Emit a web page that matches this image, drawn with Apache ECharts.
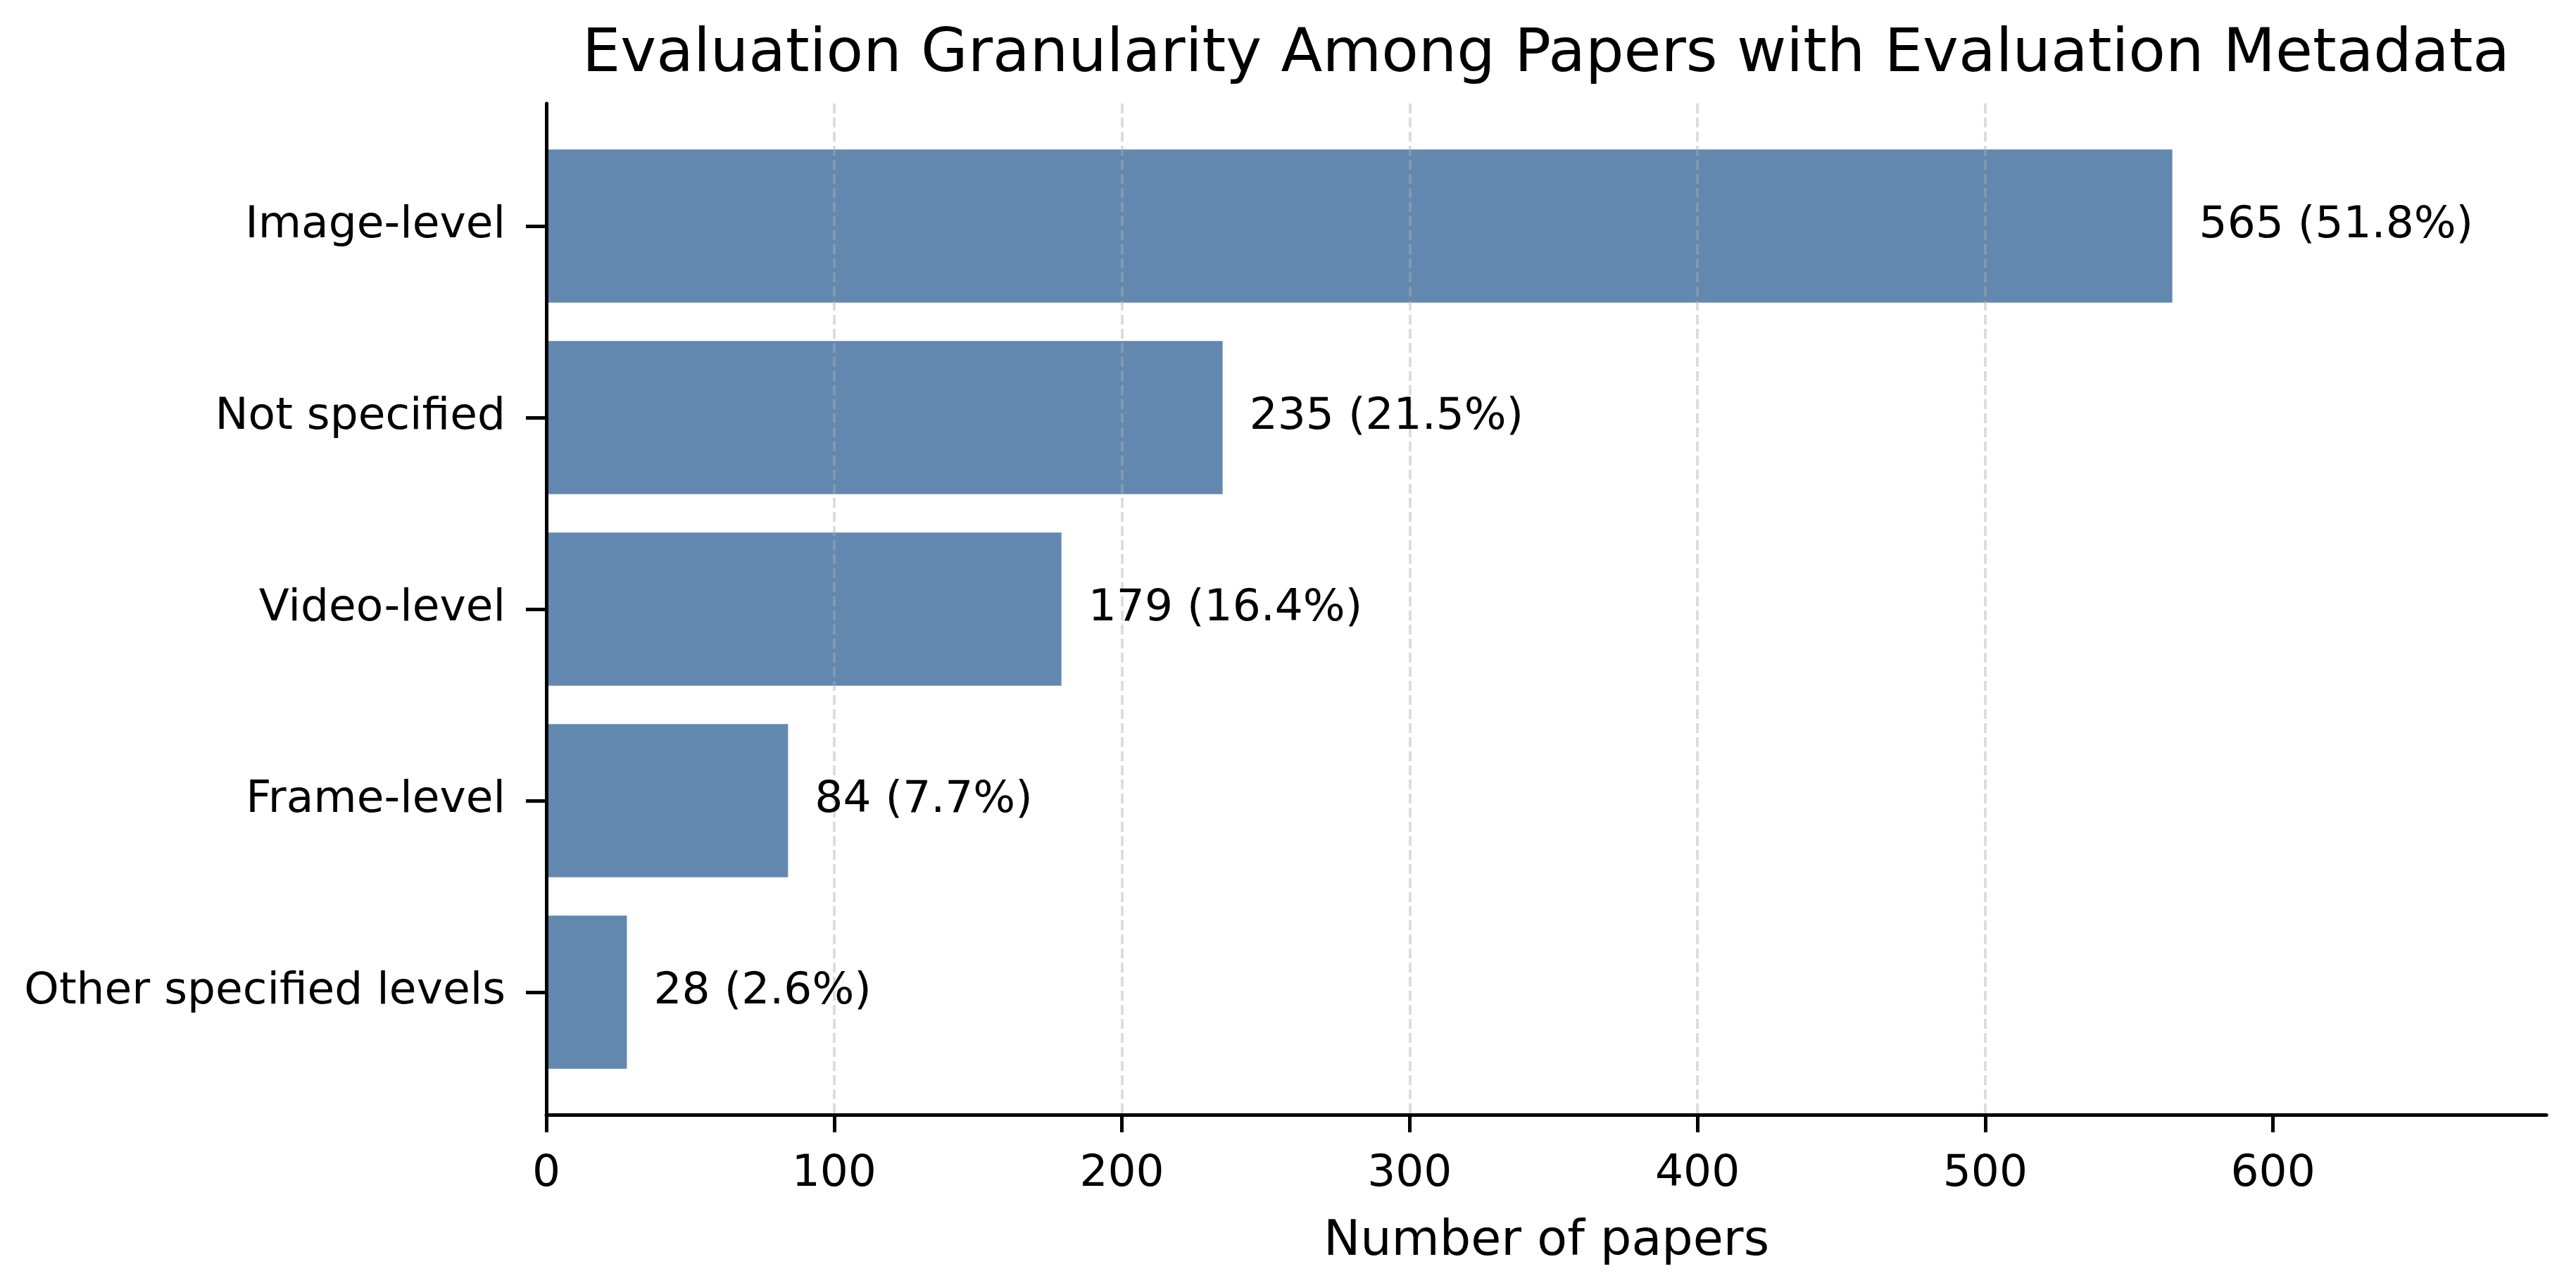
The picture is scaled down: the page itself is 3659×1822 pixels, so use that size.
<!DOCTYPE html>
<html>
<head>
<meta charset="utf-8">
<script src="https://cdn.jsdelivr.net/npm/echarts@6/dist/echarts.min.js"></script>
<style>
html,body{margin:0;padding:0;background:#fff;}
#chart{width:3659px;height:1822px;}
</style>
</head>
<body>
<div id="chart"></div>
<script>
const titleText = 'Evaluation Granularity Among Papers with Evaluation Metadata';
const categories = ['Image-level', 'Not specified', 'Video-level', 'Frame-level', 'Other specified levels'];
const counts = [565, 235, 179, 84, 28];
const percents = ['51.8%', '21.5%', '16.4%', '7.7%', '2.6%'];
const xTicks = [0, 100, 200, 300, 400, 500, 600];
const xMax = 695;
const xName = 'Number of papers';

const FONT = 'DejaVu Sans';
const BAR = '#6288b0';

const chart = echarts.init(document.getElementById('chart'), null, {width: 3659, height: 1822, renderer: 'canvas'});

const option = {
  backgroundColor: '#ffffff',
  animation: false,
  title: {
    text: titleText,
    left: 2196,
    top: 36,
    padding: 0,
    textAlign: 'center',
    textStyle: {fontFamily: FONT, fontSize: 86, fontWeight: 'normal', color: '#000'}
  },
  grid: [
    {left: 776, right: 42, top: 147, bottom: 239, containLabel: false},
    {left: 776, right: 42, top: 185, bottom: 277, containLabel: false}
  ],
  xAxis: [
    {
      gridIndex: 0, type: 'value', min: 0, max: xMax, interval: 100, z: 3,
      name: xName, nameLocation: 'middle', nameGap: 146,
      nameTextStyle: {fontFamily: FONT, fontSize: 70, color: '#000'},
      axisLine: {show: true, lineStyle: {color: '#000', width: 5}},
      axisTick: {show: true, length: 25, lineStyle: {color: '#000', width: 5}, customValues: xTicks},
      axisLabel: {show: true, margin: 53, fontFamily: FONT, fontSize: 63, color: '#000', customValues: xTicks},
      splitLine: {show: true, showMinLine: false, showMaxLine: false,
        lineStyle: {color: 'rgba(176,176,176,0.45)', width: 3.8, type: [14, 6]}}
    },
    {
      gridIndex: 1, type: 'value', min: 0, max: xMax, show: false,
      splitLine: {show: false}
    }
  ],
  yAxis: [
    {
      gridIndex: 0, type: 'value', min: 0, max: 1, z: 3,
      axisLine: {show: true, onZero: false, lineStyle: {color: '#000', width: 5}},
      axisTick: {show: false}, axisLabel: {show: false}, splitLine: {show: false}
    },
    {
      gridIndex: 1, type: 'category', data: categories, inverse: true,
      axisLine: {show: false, onZero: false},
      axisTick: {show: true, alignWithLabel: true, length: 29, lineStyle: {color: '#000', width: 5}},
      axisLabel: {show: true, margin: 58, fontFamily: FONT, fontSize: 63, color: '#000'},
      splitLine: {show: false}
    }
  ],
  series: [
    {
      type: 'bar', xAxisIndex: 1, yAxisIndex: 1, data: counts,
      barCategoryGap: '20%', z: 2,
      itemStyle: {color: BAR},
      label: {show: false}
    },
    {
      type: 'bar', xAxisIndex: 1, yAxisIndex: 1, data: counts,
      barCategoryGap: '20%', barGap: '-100%', z: 4,
      itemStyle: {color: 'rgba(0,0,0,0)'},
      label: {
        show: true, position: 'right', distance: 38,
        fontFamily: FONT, fontSize: 63, color: '#000',
        formatter: function (p) { return counts[p.dataIndex] + ' (' + percents[p.dataIndex] + ')'; }
      },
      silent: true
    }
  ]
};
chart.setOption(option);
</script>
</body>
</html>
